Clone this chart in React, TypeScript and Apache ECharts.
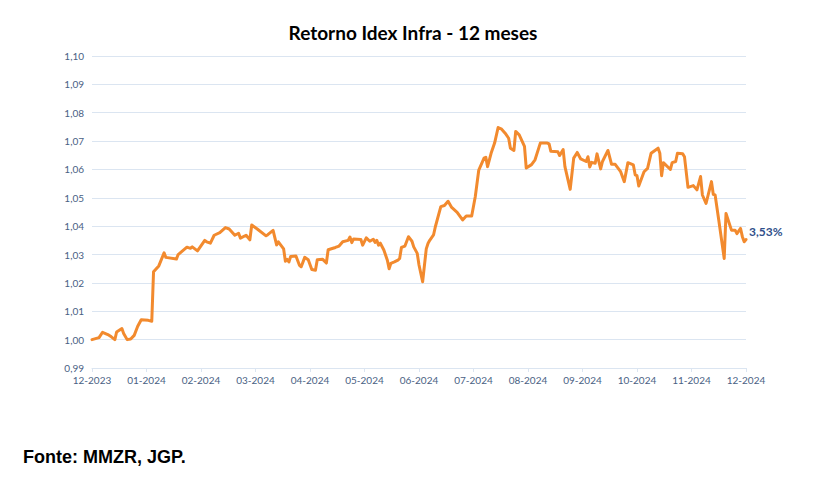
import React, { useEffect, useRef } from "react";
import * as echarts from "echarts";

const title = "Retorno Idex Infra - 12 meses";
const source = "Fonte: MMZR, JGP.";
const endLabelText = "3,53%";

const monthLabels = [
  "12-2023", "01-2024", "02-2024", "03-2024", "04-2024", "05-2024", "06-2024",
  "07-2024", "08-2024", "09-2024", "10-2024", "11-2024", "12-2024",
];

const dates = [
  "2023-12-01", "2023-12-05", "2023-12-07", "2023-12-10", "2023-12-12", "2023-12-14", "2023-12-15",
  "2023-12-18", "2023-12-19", "2023-12-21", "2023-12-23", "2023-12-25", "2023-12-27", "2023-12-29",
  "2024-01-02", "2024-01-04", "2024-01-05", "2024-01-08", "2024-01-11", "2024-01-12", "2024-01-18",
  "2024-01-19", "2024-01-24", "2024-01-26", "2024-01-27", "2024-01-30",
  "2024-02-03", "2024-02-04", "2024-02-06", "2024-02-08", "2024-02-11", "2024-02-14", "2024-02-16",
  "2024-02-19", "2024-02-21", "2024-02-22", "2024-02-25", "2024-02-27", "2024-02-28",
  "2024-03-02", "2024-03-07", "2024-03-08", "2024-03-11", "2024-03-13", "2024-03-14", "2024-03-17",
  "2024-03-18", "2024-03-19", "2024-03-20", "2024-03-21", "2024-03-24", "2024-03-26", "2024-03-27",
  "2024-03-29", "2024-03-31",
  "2024-04-02", "2024-04-04", "2024-04-05", "2024-04-08", "2024-04-10", "2024-04-11", "2024-04-15",
  "2024-04-17", "2024-04-19", "2024-04-22", "2024-04-23", "2024-04-24", "2024-04-25", "2024-04-29",
  "2024-04-30",
  "2024-05-02", "2024-05-04", "2024-05-06", "2024-05-07", "2024-05-08", "2024-05-09", "2024-05-10",
  "2024-05-12", "2024-05-14", "2024-05-15", "2024-05-16", "2024-05-18", "2024-05-20", "2024-05-21",
  "2024-05-22", "2024-05-24", "2024-05-26", "2024-05-28", "2024-05-29", "2024-05-31",
  "2024-06-01", "2024-06-03", "2024-06-05", "2024-06-06", "2024-06-07", "2024-06-09", "2024-06-10",
  "2024-06-13", "2024-06-15", "2024-06-17", "2024-06-19", "2024-06-22", "2024-06-25", "2024-06-27",
  "2024-06-30",
  "2024-07-02", "2024-07-04", "2024-07-07", "2024-07-08", "2024-07-09", "2024-07-11", "2024-07-13",
  "2024-07-15", "2024-07-17", "2024-07-19", "2024-07-21", "2024-07-22", "2024-07-24", "2024-07-25",
  "2024-07-27", "2024-07-30", "2024-07-31",
  "2024-08-03", "2024-08-05", "2024-08-08", "2024-08-12", "2024-08-13", "2024-08-14", "2024-08-18",
  "2024-08-19", "2024-08-21", "2024-08-22", "2024-08-25", "2024-08-27", "2024-08-29", "2024-08-31",
  "2024-09-03", "2024-09-04", "2024-09-05", "2024-09-06", "2024-09-08", "2024-09-09", "2024-09-11",
  "2024-09-12", "2024-09-15", "2024-09-17", "2024-09-19", "2024-09-22", "2024-09-24", "2024-09-26",
  "2024-09-29", "2024-09-30",
  "2024-10-01", "2024-10-02", "2024-10-05", "2024-10-07", "2024-10-09", "2024-10-13", "2024-10-14",
  "2024-10-15", "2024-10-16", "2024-10-20", "2024-10-21", "2024-10-23", "2024-10-24", "2024-10-27",
  "2024-10-28", "2024-10-30",
  "2024-11-02", "2024-11-04", "2024-11-06", "2024-11-07", "2024-11-09", "2024-11-12", "2024-11-13",
  "2024-11-14", "2024-11-16", "2024-11-19", "2024-11-20", "2024-11-23", "2024-11-25", "2024-11-26",
  "2024-11-28", "2024-11-29", "2024-11-30", "2024-12-01",
];

const values = [
  1.0, 1.0007, 1.0026, 1.0018, 1.001, 1.0, 1.0027,
  1.0039, 1.0022, 1.0, 1.0002, 1.0015, 1.0047, 1.007,
  1.0068, 1.0065, 1.0239, 1.026, 1.0306, 1.029, 1.0284,
  1.03, 1.0326, 1.0322, 1.0327, 1.0313,
  1.035, 1.0345, 1.034, 1.0368, 1.0377, 1.0395, 1.039,
  1.0368, 1.0375, 1.0358, 1.0368, 1.0352, 1.0404,
  1.039, 1.0366, 1.037, 1.0385, 1.0334, 1.0345, 1.032,
  1.0276, 1.0283, 1.0274, 1.0293, 1.0295, 1.0262, 1.0257,
  1.029, 1.0282,
  1.0247, 1.0245, 1.0282, 1.0283, 1.027, 1.0317, 1.0325,
  1.033, 1.0345, 1.035, 1.0362, 1.0342, 1.0355, 1.0353,
  1.0333,
  1.0359, 1.0347, 1.0354, 1.0343, 1.035, 1.0333, 1.034,
  1.0316, 1.028, 1.025, 1.0269, 1.0274, 1.028, 1.0286,
  1.0325, 1.033, 1.0363, 1.0347, 1.0327, 1.0304,
  1.0263, 1.0204, 1.032, 1.034, 1.0351, 1.0369, 1.0398,
  1.0469, 1.0473, 1.0488, 1.0466, 1.0449, 1.0422, 1.0436,
  1.0436,
  1.0504, 1.0598, 1.064, 1.0643, 1.061, 1.0657, 1.0693,
  1.0748, 1.0742, 1.0728, 1.071, 1.0675, 1.0667, 1.0734,
  1.0722, 1.0681, 1.0605,
  1.0617, 1.0634, 1.0693, 1.0693, 1.069, 1.0664, 1.0662,
  1.0649, 1.067, 1.061, 1.053, 1.064, 1.066, 1.0637,
  1.0628, 1.0645, 1.0609, 1.0625, 1.0622, 1.0655, 1.0602,
  1.0628, 1.0667, 1.0618, 1.0618, 1.0592, 1.0557, 1.0624,
  1.0616, 1.0581,
  1.0578, 1.0542, 1.0592, 1.0604, 1.0657, 1.0675, 1.0657,
  1.0578, 1.0624, 1.06, 1.0624, 1.0628, 1.0657, 1.0655,
  1.0645, 1.0537,
  1.0543, 1.0528, 1.0575, 1.051, 1.048, 1.0557, 1.0512,
  1.051, 1.0422, 1.0286, 1.0445, 1.0386, 1.0386, 1.0374,
  1.0392, 1.0363, 1.0345, 1.0353,
];

// Excel-style axis: each month takes the same width
function monthPosition(date: string): number {
  const [y, m, d] = date.split("-").map(Number);
  const daysInMonth = new Date(y, m, 0).getDate();
  return (y - 2023) * 12 + (m - 12) + (d - 1) / daysInMonth;
}

const axisColor = "#4a6184";
const gridColor = "#dbe5f1";

export default function App() {
  const ref = useRef<HTMLDivElement>(null);

  useEffect(() => {
    if (!ref.current) return;
    const chart = echarts.init(ref.current, undefined, { renderer: "svg" });
    const seriesData = dates.map((d, i) => [monthPosition(d), values[i]]);
    chart.setOption({
      animation: false,
      backgroundColor: "#ffffff",
      grid: { left: 92, right: 72, top: 56, bottom: 112 },
      graphic: [
        {
          type: "text",
          x: 413,
          y: 32,
          style: {
            text: title,
            fontFamily: "Lato",
            fontWeight: "bold",
            fontSize: 19,
            fill: "#000000",
            align: "center",
            verticalAlign: "middle",
          },
        },
        {
          type: "text",
          x: 23,
          y: 457,
          style: {
            text: source,
            fontFamily: "Liberation Sans",
            fontWeight: "bold",
            fontSize: 18,
            fill: "#000000",
            align: "left",
            verticalAlign: "middle",
          },
        },
      ],
      xAxis: {
        type: "value",
        min: 0,
        max: 12,
        interval: 1,
        axisLine: { show: true, lineStyle: { color: gridColor, width: 1 } },
        axisTick: { show: true, length: 4, lineStyle: { color: gridColor } },
        splitLine: { show: false },
        axisLabel: {
          color: axisColor,
          fontFamily: "Lato",
          fontSize: 10,
          margin: 7,
          formatter: (v: number) => monthLabels[Math.round(v)] ?? "",
        },
      },
      yAxis: {
        type: "value",
        min: 0.99,
        max: 1.1,
        interval: 0.01,
        axisLine: { show: false },
        axisTick: { show: false },
        splitLine: { show: true, lineStyle: { color: gridColor, width: 1 } },
        axisLabel: {
          color: axisColor,
          fontFamily: "Lato",
          fontSize: 10,
          margin: 8,
          formatter: (v: number) => v.toFixed(2).replace(".", ","),
        },
      },
      series: [
        {
          type: "line",
          data: seriesData,
          showSymbol: false,
          symbol: "none",
          smooth: false,
          lineStyle: { color: "#f28a2e", width: 3, join: "round", cap: "round" },
          itemStyle: { color: "#f28a2e" },
          endLabel: {
            show: true,
            formatter: endLabelText,
            color: "#2f4f8a",
            fontFamily: "Lato",
            fontWeight: "bold",
            fontSize: 12,
            distance: 3,
            offset: [0, -8],
          },
        },
      ],
    });
    return () => chart.dispose();
  }, []);

  return (
    <div
      ref={ref}
      style={{ position: "absolute", left: 0, top: 0, width: 818, height: 480 }}
    />
  );
}
